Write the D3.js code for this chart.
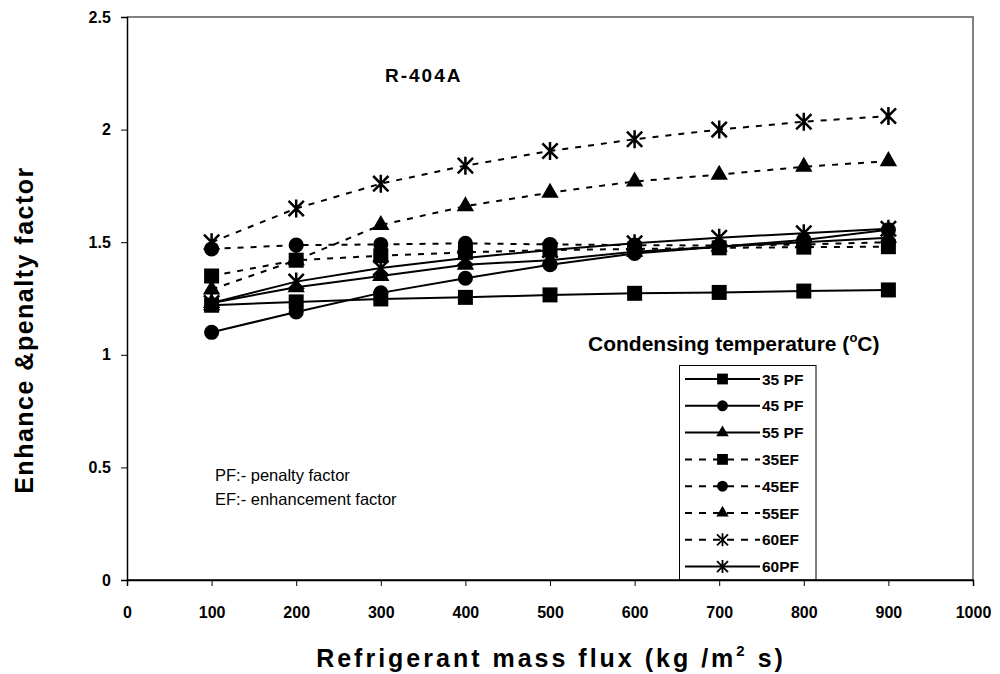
<!DOCTYPE html>
<html><head><meta charset="utf-8">
<script src="https://cdn.jsdelivr.net/npm/d3@7/dist/d3.min.js"></script>
<style>body{margin:0;background:#fff}svg{display:block}text{font-family:"Liberation Sans",Arial,sans-serif}</style>
</head><body><svg id="c" width="1000" height="674"></svg>
<script>
const massFlux = [100,200,300,400,500,600,700,800,900];
const pf35 = [1.22,1.235,1.248,1.255,1.266,1.273,1.277,1.283,1.288];
const pf45 = [1.10,1.19,1.275,1.34,1.40,1.45,1.48,1.51,1.555];
const pf55 = [1.23,1.30,1.35,1.40,1.42,1.458,1.48,1.50,1.52];
const ef35 = [1.35,1.42,1.44,1.455,1.465,1.47,1.475,1.478,1.48];
const ef45 = [1.47,1.487,1.49,1.495,1.49,1.487,1.485,1.49,1.50];
const ef55 = [1.29,1.42,1.576,1.66,1.72,1.77,1.80,1.835,1.86];
const ef60 = [1.50,1.65,1.76,1.84,1.905,1.957,2.00,2.035,2.06];
const pf60 = [1.23,1.325,1.385,1.43,1.465,1.495,1.52,1.54,1.56];
const xTicks = [0,100,200,300,400,500,600,700,800,900,1000];
const yTicks = [0,0.5,1,1.5,2,2.5];
const yTickLabels = ["0","0.5","1","1.5","2","2.5"];

const series = [
  {name:"35 PF", values:pf35, marker:"square", dashed:false},
  {name:"45 PF", values:pf45, marker:"circle", dashed:false},
  {name:"55 PF", values:pf55, marker:"triangle", dashed:false},
  {name:"35EF", values:ef35, marker:"square", dashed:true},
  {name:"45EF", values:ef45, marker:"circle", dashed:true},
  {name:"55EF", values:ef55, marker:"triangle", dashed:true},
  {name:"60EF", values:ef60, marker:"star", dashed:true},
  {name:"60PF", values:pf60, marker:"star", dashed:false}
];

const svg = d3.select("#c");
const L=127, R=973, T=17, B=580;
const x = d3.scaleLinear().domain([0,1000]).range([L,R]);
const y = d3.scaleLinear().domain([0,2.5]).range([B,T]);

svg.append("path").attr("d",`M${L},${T}H${R}V${B}`).attr("fill","none").attr("stroke","#808080").attr("stroke-width",2);

const gx = svg.append("g").attr("transform",`translate(0,${B})`)
  .call(d3.axisBottom(x).tickValues(xTicks).tickSize(6).tickFormat(d3.format("d")));
const gy = svg.append("g").attr("transform",`translate(${L},0)`)
  .call(d3.axisLeft(y).tickValues(yTicks).tickSize(6).tickFormat((d,i)=>yTickLabels[i]));
[gx,gy].forEach(g=>{
  g.select(".domain").attr("stroke","#000").attr("stroke-width",1.5);
  g.selectAll(".tick line").attr("stroke","#000").attr("stroke-width",1);
  g.selectAll(".tick text").attr("font-family","Liberation Sans, Arial").attr("font-weight","bold").attr("font-size",16).attr("fill","#000");
});
gx.selectAll(".tick text").attr("dy","1.8em");
gy.selectAll(".tick text").attr("dx","-0.45em");

function markerPath(m){
  if(m==="square") return d3.symbol(d3.symbolSquare,225)();
  if(m==="circle") return d3.symbol(d3.symbolCircle,180)();
  if(m==="triangle") return d3.symbol(d3.symbolTriangle,130)();
  return null;
}
function drawMarker(g,m,cx,cy,scale){
  scale = scale||1;
  if(m==="star"){
    const r=9*scale;
    const a=r*0.85;
    g.append("path").attr("d",`M${cx-a},${cy-a}L${cx+a},${cy+a}M${cx-a},${cy+a}L${cx+a},${cy-a}M${cx},${cy-r}L${cx},${cy+r}`)
      .attr("stroke","#000").attr("stroke-width",2.5*scale).attr("fill","none");
  } else {
    g.append("path").attr("d",markerPath(m)).attr("transform",`translate(${cx},${cy}) scale(${scale})`).attr("fill","#000");
  }
}

const line = d3.line().x(d=>x(d[0])).y(d=>y(d[1]));
series.forEach(s=>{
  const pts = massFlux.map((v,i)=>[v,s.values[i]]);
  svg.append("path").attr("d",line(pts)).attr("fill","none").attr("stroke","#000")
    .attr("stroke-width",2).attr("stroke-dasharray",s.dashed?"6,7":null);
});
series.forEach(s=>{
  const g = svg.append("g");
  massFlux.forEach((v,i)=>drawMarker(g,s.marker,x(v),y(s.values[i])));
});

// legend
const lg = svg.append("g");
lg.append("rect").attr("x",679.5).attr("y",365.5).attr("width",136.5).attr("height",B-365.5)
  .attr("fill","#fff").attr("stroke","#000").attr("stroke-width",1);
series.forEach((s,i)=>{
  const yy = 379 + i*26.8;
  lg.append("line").attr("x1",685).attr("x2",760).attr("y1",yy).attr("y2",yy)
    .attr("stroke","#000").attr("stroke-width",2).attr("stroke-dasharray",s.dashed?"7,7":null);
  drawMarker(lg,s.marker,722.5,yy,0.72);
  lg.append("text").attr("x",762).attr("y",yy+5.5).attr("font-size",15.5).attr("font-weight","bold").text(s.name);
});
svg.append("line").attr("x1",L).attr("x2",R).attr("y1",B).attr("y2",B).attr("stroke","#000").attr("stroke-width",1.5);

// texts
svg.append("text").attr("x",385).attr("y",82).attr("font-size",19).attr("font-weight","bold").attr("letter-spacing",2).text("R-404A");
const ct = svg.append("text").attr("x",588).attr("y",351).attr("font-size",21).attr("font-weight","bold");
ct.append("tspan").text("Condensing temperature (");
ct.append("tspan").attr("font-size",13).attr("dy",-9).text("o");
ct.append("tspan").attr("dy",9).text("C)");

svg.append("text").attr("x",215).attr("y",481).attr("font-size",16.5).text("PF:- penalty factor");
svg.append("text").attr("x",215).attr("y",505).attr("font-size",16.5).text("EF:- enhancement factor");

const xt = svg.append("text").attr("x",551).attr("y",667).attr("text-anchor","middle").attr("font-size",25).attr("font-weight","bold").attr("letter-spacing",3);
xt.append("tspan").text("Refrigerant mass flux (kg /m");
xt.append("tspan").attr("font-size",15).attr("dy",-11).text("2");
xt.append("tspan").attr("dy",11).text(" s)");

svg.append("text").attr("transform","translate(33,330) rotate(-90)").attr("text-anchor","middle")
  .attr("font-size",25).attr("font-weight","bold").attr("letter-spacing",1.5).text("Enhance &penalty factor");
</script></body></html>
